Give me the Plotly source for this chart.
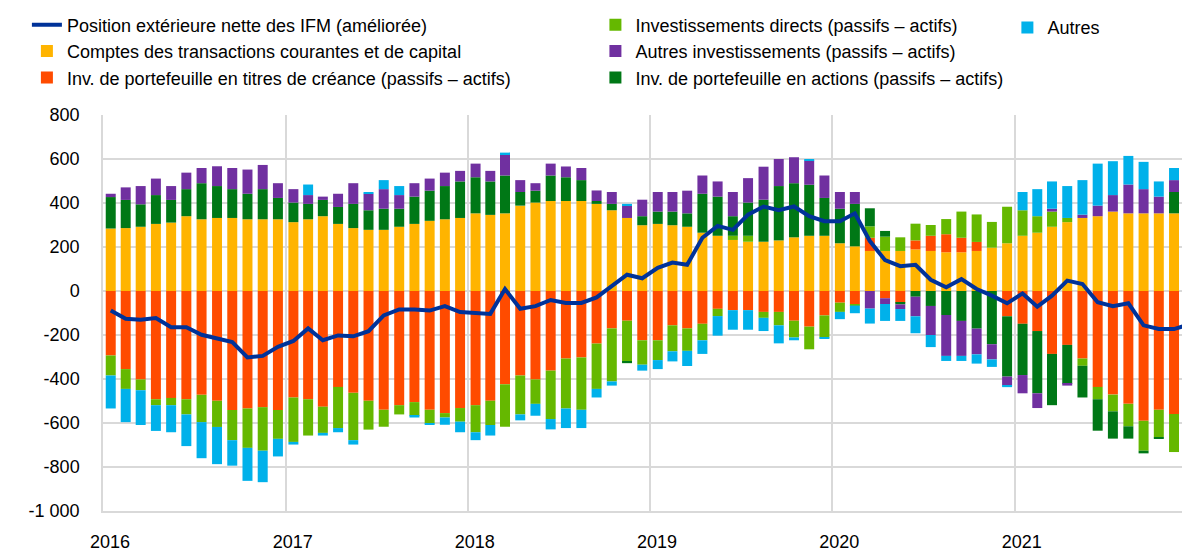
import plotly.graph_objects as go
import pandas as pd

months = pd.date_range("2016-01-01", periods=72, freq="MS").strftime("%Y-%m-%d").tolist()

comptes = [284, 286, 292, 305, 311, 340, 326, 332, 332, 326, 326, 326,
           313, 326, 340, 305, 286, 278, 278, 292, 305, 319, 326, 332,
           353, 346, 353, 388, 402, 409, 409, 409, 396, 367, 332, 299,
           305, 299, 292, 265, 251, 232, 224, 224, 230, 244, 251, 251,
           217, 203, 182, 182, 182, 189, 182, 176, 176, 182, 197, 217,
           251, 265, 292, 313, 332, 340, 361, 353, 353, 353, 353, 353]

titres_creance = [-293, -355, -402, -492, -486, -492, -472, -499, -541, -534, -528, -541,
                  -484, -492, -526, -436, -463, -499, -540, -519, -505, -540, -555, -532,
                  -519, -499, -424, -384, -402, -362, -307, -302, -239, -170, -135, -224,
                  -224, -156, -170, -149, -81, -87, -87, -95, -95, -135, -162, -111,
                  -53, -60, 60, -33, -53, 41, 69, 82, 66, 41, 0, -115,
                  -149, -182, -286, -245, -307, -436, -471, -513, -590, -540, -559, -451]

inv_directs = [-91, -90, -49, -27, -33, -69, -124, -119, -137, -179, -198, -131,
               -202, -165, -119, -187, -215, -131, -77, -42, -62, -62, -20, -62,
               -123, -110, -193, -177, -111, -220, -227, -238, -206, -241, -187, -111,
               -90, -118, -102, -75, -33, 19, 27, -27, -61, -76, -103, -100,
               -42, -6, 52, 65, 62, 76, 49, 69, 119, 125, 117, 166,
               116, 75, 69, 19, -33, -56, -76, -102, -136, -125, -173, -281]

actions = [143, 128, 102, 131, 103, 123, 164, 145, 131, 116, 137, 97,
           89, 70, 74, 77, 110, 89, 96, 82, 124, 137, 151, 166,
           164, 152, 172, 62, 54, 116, 108, 95, 13, 29, -6, 41,
           56, 62, 61, 177, 178, 89, 151, 191, 247, 246, 232, 172,
           157, 193, 82, 26, -8, -26, -68, -109, -136, -171, -242, -274,
           -233, -283, -233, -177, -144, -143, -124, -56, -12, -6, 97, 158]

autres_inv = [15, 57, 83, 75, 63, 75, 69, 90, 96, 110, 110, 67,
              61, 40, 15, 60, 94, 75, 89, 62, 61, 55, 61, 48,
              62, 48, 96, 54, 34, 54, 49, 55, 48, 54, 56, 75,
              89, 89, 103, 83, 69, 110, 111, 150, 123, 118, 110, 102,
              76, 54, -80, -26, -21, -89, -132, -186, -159, -117, -69, -41,
              -83, -67, 13, -8, 15, 48, 75, 131, 110, 76, 54, 14]

autres = [-150, -151, -158, -117, -123, -144, -164, -169, -116, -150, -143, -80,
          -12, 48, -12, -19, -20, 8, 41, 41, -8, -6, -33, -48,
          -36, -48, 8, -27, -54, -47, -89, -83, -39, -19, 8, -27,
          -41, -46, -69, -62, -89, -89, -89, -60, -82, -13, 7, -7,
          -33, -35, -68, -77, -54, -77, -55, -23, -23, -42, -34, -7,
          83, 123, 124, 145, 157, 191, 154, 130, 124, 69, 55, 55]

position_ifm = [-89, -126, -131, -123, -165, -165, -199, -218, -232, -302, -295, -254,
                -227, -170, -224, -202, -206, -183, -111, -84, -84, -89, -69, -96,
                -99, -104, 9, -81, -69, -41, -54, -54, -29, 24, 74, 58,
                105, 129, 119, 242, 296, 278, 347, 384, 367, 384, 340, 317,
                317, 353, 227, 140, 113, 119, 51, 17, 54, 9, -21, -56,
                -11, -71, -21, 47, 32, -51, -69, -56, -156, -173, -173, -152]

y_tickvals = [-1000, -800, -600, -400, -200, 0, 200, 400, 600, 800]
y_ticktext = ["-1 000", "-800", "-600", "-400", "-200", "0", "200", "400", "600", "800"]
year_ticks = ["2016-01-01", "2017-01-01", "2018-01-01", "2019-01-01", "2020-01-01", "2021-01-01"]
year_labels = ["2016", "2017", "2018", "2019", "2020", "2021"]

FONT = "Liberation Sans, Arial, sans-serif"
BAR_W = 20 * 86400000

series = [
    ("Comptes des transactions courantes et de capital", comptes, "#FFB400", "legend", 2),
    ("Inv. de portefeuille en titres de créance (passifs – actifs)", titres_creance, "#FF4B00", "legend", 3),
    ("Investissements directs (passifs – actifs)", inv_directs, "#65B800", "legend2", 1),
    ("Inv. de portefeuille en actions (passifs – actifs)", actions, "#007816", "legend2", 3),
    ("Autres investissements (passifs – actifs)", autres_inv, "#7030A0", "legend2", 2),
    ("Autres", autres, "#00B1EA", "legend3", 1),
]

fig = go.Figure()
for name, vals, col, leg, rank in series:
    fig.add_trace(go.Bar(
        x=months, y=vals, name=name, marker_color=col, marker_line_width=0,
        width=BAR_W, xperiod="M1", xperiodalignment="middle",
        legend=leg, legendrank=rank,
    ))

fig.add_trace(go.Scatter(
    x=months, y=position_ifm, name="Position extérieure nette des IFM (améliorée)",
    mode="lines", line=dict(color="#003299", width=4),
    xperiod="M1", xperiodalignment="middle", legend="legend", legendrank=1,
))

grid = "#d9d9d9"
legfont = dict(family=FONT, size=18, color="#000000")
# the page body keeps the browser's 8px margin, so the figure is sized to fit the window
fig.update_layout(
    width=1182, height=543,
    margin=dict(l=95, r=0, t=107, b=40, autoexpand=False),
    paper_bgcolor="white", plot_bgcolor="white",
    barmode="relative",
    font=dict(family=FONT, size=18, color="#000000"),
    legend=dict(x=-0.070, y=1.274, xanchor="left", yanchor="top", font=legfont,
                bgcolor="rgba(0,0,0,0)", traceorder="normal"),
    legend2=dict(x=0.453, y=1.274, xanchor="left", yanchor="top", font=legfont,
                 bgcolor="rgba(0,0,0,0)", traceorder="normal"),
    legend3=dict(x=0.832, y=1.267, xanchor="left", yanchor="top", font=legfont,
                 bgcolor="rgba(0,0,0,0)", traceorder="normal"),
    xaxis=dict(
        type="date", range=["2016-01-01", "2021-12-18"],
        tickvals=year_ticks, ticktext=year_labels,
        showgrid=True, gridcolor=grid, gridwidth=1.5,
        showline=True, linecolor=grid, linewidth=1.5,
        ticks="", ticklabelshift=7, ticklabelstandoff=14,
        tickfont=dict(family=FONT, size=18, color="#000000"),
    ),
    yaxis=dict(
        range=[-1000, 800], tickvals=y_tickvals, ticktext=y_ticktext,
        showgrid=True, gridcolor=grid, gridwidth=1.5,
        zeroline=True, zerolinecolor=grid, zerolinewidth=1.5,
        showline=True, linecolor=grid, linewidth=1.5,
        ticks="", ticklabelstandoff=18,
        tickfont=dict(family=FONT, size=18, color="#000000"),
    ),
)

fig.write_html("out.html")
